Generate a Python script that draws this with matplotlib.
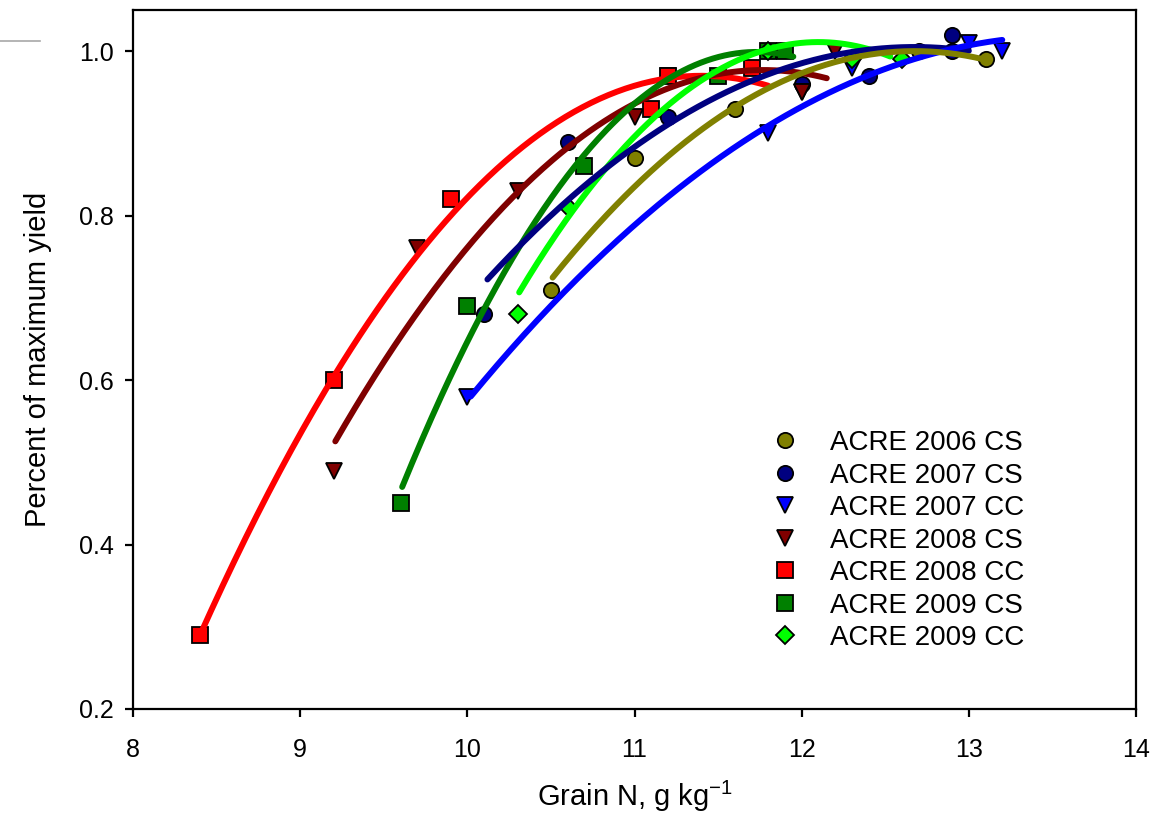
import numpy as np
import matplotlib
matplotlib.use("Agg")
import matplotlib.pyplot as plt
from matplotlib.lines import Line2D

plt.rcParams['font.family'] = ['Liberation Sans', 'DejaVu Sans']

# ---- observed data: grain N (g/kg) vs relative yield ----
labels = ["ACRE 2006 CS", "ACRE 2007 CS", "ACRE 2007 CC", "ACRE 2008 CS",
          "ACRE 2008 CC", "ACRE 2009 CS", "ACRE 2009 CC"]

x_2006cs = [10.5, 11.0, 11.6, 12.7, 13.1]
y_2006cs = [0.71, 0.87, 0.93, 1.00, 0.99]

x_2007cs = [10.1, 10.6, 11.2, 12.0, 12.4, 12.9, 12.9]
y_2007cs = [0.68, 0.89, 0.92, 0.96, 0.97, 1.02, 1.00]

x_2007cc = [10.0, 11.8, 12.0, 12.3, 13.0, 13.2]
y_2007cc = [0.58, 0.90, 0.95, 0.98, 1.01, 1.00]

x_2008cs = [9.2, 9.7, 10.3, 11.0, 11.2, 12.0, 12.2]
y_2008cs = [0.49, 0.76, 0.83, 0.92, 0.97, 0.95, 1.00]

x_2008cc = [8.4, 9.2, 9.9, 11.1, 11.2, 11.7]
y_2008cc = [0.29, 0.60, 0.82, 0.93, 0.97, 0.98]

x_2009cs = [9.6, 10.0, 10.7, 11.5, 11.8, 11.9]
y_2009cs = [0.45, 0.69, 0.86, 0.97, 1.00, 1.00]

x_2009cc = [10.3, 10.6, 11.8, 12.3, 12.6]
y_2009cc = [0.68, 0.81, 1.00, 0.99, 0.99]

# ---- quadratic response fits: y = k + a*(x - h)^2 over [x_lo, x_hi] ----
fit_a = [-0.0587, -0.0433, -0.0347, -0.0689, -0.0756, -0.1177, -0.095]
fit_h = [12.676, 12.675, 13.575, 11.77, 11.40, 11.73, 12.10]
fit_k = [1.000, 1.005, 1.0185, 0.977, 0.970, 0.999, 1.011]
fit_lo = [10.51, 10.12, 10.02, 9.21, 8.40, 9.61, 10.31]
fit_hi = [13.11, 13.00, 13.20, 12.15, 11.80, 11.95, 12.53]

colors = ["#808000", "#000080", "#0000FF", "#800000", "#FF0000", "#008000", "#00FF00"]
markers = ["o", "o", "v", "v", "s", "s", "D"]
msizes = [11, 11, 12, 12, 11, 11, 9.5]
line_z = [10, 8, 9, 5, 4, 6, 7]

xs = [x_2006cs, x_2007cs, x_2007cc, x_2008cs, x_2008cc, x_2009cs, x_2009cc]
ys = [y_2006cs, y_2007cs, y_2007cc, y_2008cs, y_2008cc, y_2009cs, y_2009cc]

fig = plt.figure(figsize=(11.54, 8.34), dpi=100)
ax = fig.add_axes([0.1153, 0.1499, 0.8691, 0.8381])

handles = []
for i in range(len(labels)):
    h = ax.plot(xs[i], ys[i], linestyle="none", marker=markers[i], ms=msizes[i],
                mfc=colors[i], mec="black", mew=1.3, zorder=2 + i * 0.1,
                label=labels[i])[0]
    handles.append(h)
    xf = np.linspace(fit_lo[i], fit_hi[i], 200)
    yf = fit_k[i] + fit_a[i] * (xf - fit_h[i]) ** 2
    ax.plot(xf, yf, color=colors[i], lw=4.3, solid_capstyle="round", zorder=line_z[i])

ax.set_xlim(8, 14)
ax.set_ylim(0.2, 1.05)
ax.set_xticks([8, 9, 10, 11, 12, 13, 14])
ax.set_yticks([0.2, 0.4, 0.6, 0.8, 1.0])
ax.set_yticklabels(["0.2", "0.4", "0.6", "0.8", "1.0"])

for s in ax.spines.values():
    s.set_linewidth(1.6)
ax.tick_params(axis="both", which="both", direction="out", length=6, width=1.6,
               top=False, right=False)
ax.tick_params(axis="x", labelsize=18, pad=15)
ax.tick_params(axis="y", labelsize=18, pad=8)

ax.set_xlabel(r"Grain N, g kg$^{\mathregular{-1}}$", fontsize=21, labelpad=12)
ax.set_ylabel("Percent of maximum yield", fontsize=21, labelpad=19)

leg = ax.legend(handles=handles, loc="upper left", bbox_to_anchor=(0.625, 0.415),
                frameon=False, fontsize=20, handlelength=1.0, handletextpad=1.12,
                labelspacing=0.235, borderaxespad=0)

# short grey rule at the top-left corner of the page
fig.add_artist(Line2D([0.0, 0.035], [1 - 41 / 834, 1 - 41 / 834],
                      color="#a8a8a8", lw=1.2, transform=fig.transFigure))

fig.savefig("out.png", dpi=100)
